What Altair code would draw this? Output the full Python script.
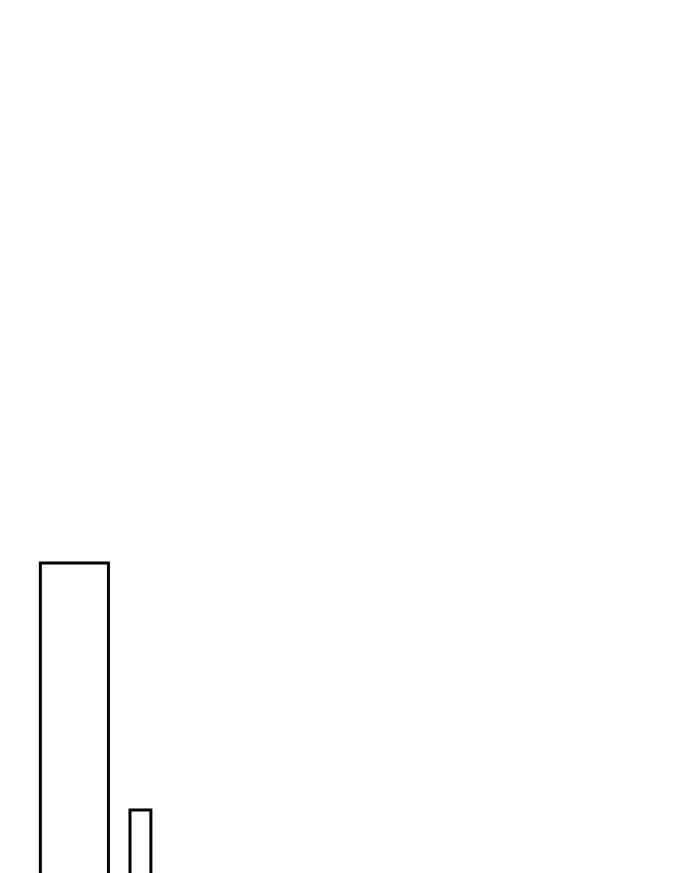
import altair as alt
import pandas as pd

bin_start = [4.8, 18.1]
bin_end = [14.9, 21.2]
values = [20.0, 11.1]
baseline = [0.0, 0.0]

df = pd.DataFrame({"start": bin_start, "end": bin_end, "value": values, "base": baseline})

chart = (
    alt.Chart(df)
    .mark_bar(fill="white", stroke="black", strokeWidth=3)
    .encode(
        x=alt.X("start:Q", scale=alt.Scale(domain=[0, 100], nice=False, zero=False), axis=None),
        x2="end:Q",
        y=alt.Y("value:Q", scale=alt.Scale(domain=[0, 40], nice=False), axis=None),
        y2="base:Q",
    )
    .properties(width=674, height=1110, padding=0)
    .configure_view(stroke=None)
)

chart.save("out.html", embed_options={"renderer": "svg", "actions": False})
